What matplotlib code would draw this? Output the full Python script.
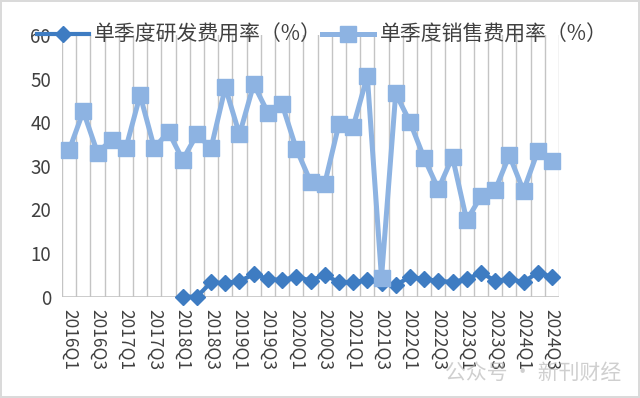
import numpy as np
import matplotlib
matplotlib.use("Agg")
import matplotlib.pyplot as plt

plt.rcParams['font.family'] = ['Noto Sans CJK SC', 'DejaVu Sans']

quarters = [f"{y}Q{q}" for y in range(2016, 2025) for q in range(1, 5)][:35]

rd_rate = [np.nan] * 8 + [0.0, 0.0, 3.3, 3.1, 3.6, 5.1, 4.1, 3.8, 4.6,
                          3.7, 5.0, 3.3, 3.3, 3.8, 3.1, 2.7, 4.5, 4.1,
                          3.6, 3.4, 4.0, 5.5, 3.7, 4.0, 3.4, 5.5, 4.6]

sales_rate = [33.6, 42.5, 33.0, 36.0, 34.1, 46.2, 34.1, 37.8, 31.4, 37.2,
              34.1, 48.0, 37.2, 48.7, 42.2, 44.1, 33.9, 26.4, 25.9, 39.5,
              38.9, 50.6, 4.3, 46.6, 40.1, 31.8, 24.7, 32.0, 17.5, 23.0,
              24.4, 32.4, 24.3, 33.3, 31.0]

labels = ["单季度研发费用率（%）", "单季度销售费用率（%）"]

rd_color = "#3E7CC2"
sales_color = "#8DB3E2"
grid_color = "#C4C4C4"

fig = plt.figure(figsize=(6.4, 3.98), dpi=100)
fig.patch.set_facecolor("white")
fig.patch.set_edgecolor("#DADADA")
fig.patch.set_linewidth(1.5)

ax = fig.add_axes([62/640, 101.3/398, 497/640, 261.7/398])
x = np.arange(len(quarters))

l1, = ax.plot(x, rd_rate, color=rd_color, lw=3.0, marker='D', ms=8,
              markeredgecolor=rd_color, markerfacecolor=rd_color, zorder=3,
              label=labels[0], clip_on=False)
l2, = ax.plot(x, sales_rate, color=sales_color, lw=3.6, marker='s', ms=11,
              markeredgecolor=sales_color, markerfacecolor=sales_color, zorder=4,
              label=labels[1], clip_on=False)

ax.set_xlim(-0.5, len(quarters) - 0.5)
ax.set_ylim(0, 60)
for b in np.arange(-0.5, len(quarters), 1.0):
    ax.axvline(b, color=grid_color, lw=1.0, zorder=1)
ax.axhline(0, color=grid_color, lw=1.2, zorder=1)

for s in ax.spines.values():
    s.set_visible(False)

ax.set_yticks(np.arange(0, 61, 10))
ax.set_yticklabels([str(v) for v in range(0, 61, 10)], fontsize=13.5, color="#404040")
ax.set_xticks(x[::2])
ax.set_xticklabels(quarters[::2], rotation=-90, fontsize=12.5, color="#404040",
                   va='top', ha='center')
ax.tick_params(axis='both', length=0, pad=8)
ax.tick_params(axis='x', pad=9)

leg = fig.legend(handles=[l1, l2], labels=labels, loc='center left',
                 bbox_to_anchor=(37/640, 1 - 35/398), ncol=2, frameon=False,
                 fontsize=15, handlelength=2.5, columnspacing=0.0,
                 handletextpad=0.25, numpoints=1, borderaxespad=0,
                 borderpad=0)
for t in leg.get_texts():
    t.set_color("#404040")

fig.text(445/640, 1 - 373/398, "公众号 · 新刊财经", fontsize=15, color="#B0B0B0",
         alpha=0.6, va='center', ha='left')

fig.savefig("out.png", dpi=100, facecolor=fig.get_facecolor(),
            edgecolor=fig.get_edgecolor())
